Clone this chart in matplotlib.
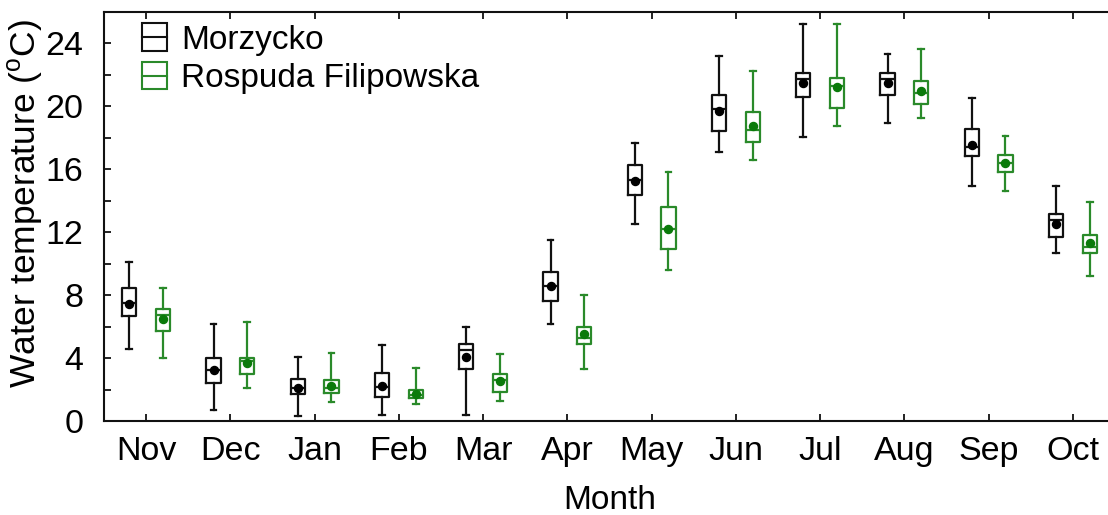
import matplotlib
matplotlib.use("Agg")
import matplotlib.pyplot as plt
from matplotlib.patches import Rectangle
from matplotlib.lines import Line2D
from matplotlib.legend_handler import HandlerBase
from matplotlib.ticker import MultipleLocator

plt.rcParams['font.family'] = ['Liberation Sans', 'DejaVu Sans']
plt.rcParams['mathtext.fontset'] = 'custom'
plt.rcParams['mathtext.rm'] = 'Liberation Sans'

months = ['Nov', 'Dec', 'Jan', 'Feb', 'Mar', 'Apr', 'May', 'Jun', 'Jul', 'Aug', 'Sep', 'Oct']
series = ['Morzycko', 'Rospuda Filipowska']

# Morzycko
m_wlo = [4.6, 0.73, 0.30, 0.41, 0.41, 6.19, 12.53, 17.11, 18.03, 18.94, 14.93, 10.71]
m_q1  = [6.65, 2.43, 1.73, 1.50, 3.32, 7.63, 14.37, 18.41, 20.57, 20.72, 16.82, 11.70]
m_med = [7.50, 3.26, 2.10, 2.15, 4.49, 8.58, 15.31, 19.81, 21.72, 21.72, 17.43, 12.76]
m_q3  = [8.48, 4.02, 2.70, 3.04, 4.91, 9.47, 16.30, 20.74, 22.14, 22.14, 18.55, 13.14]
m_whi = [10.1, 6.14, 4.10, 4.80, 6.00, 11.53, 17.70, 23.22, 25.24, 23.35, 20.55, 14.93]
m_mean = [7.46, 3.26, 2.11, 2.24, 4.10, 8.58, 15.28, 19.72, 21.46, 21.46, 17.56, 12.55]

# Rospuda Filipowska
r_wlo = [4.0, 2.11, 1.20, 1.09, 1.30, 3.28, 9.62, 16.58, 18.77, 19.24, 14.61, 9.20]
r_q1  = [5.70, 2.98, 1.77, 1.48, 1.83, 4.89, 10.92, 17.71, 19.87, 20.13, 15.82, 10.68]
r_med = [6.72, 3.79, 2.10, 1.64, 2.58, 5.30, 12.21, 18.47, 21.29, 20.87, 16.37, 11.06]
r_q3  = [7.14, 4.02, 2.62, 2.00, 2.98, 5.95, 13.61, 19.64, 21.82, 21.63, 16.94, 11.81]
r_whi = [8.48, 6.29, 4.32, 3.40, 4.23, 8.03, 15.82, 22.25, 25.24, 23.65, 18.11, 13.93]
r_mean = [6.46, 3.68, 2.24, 1.71, 2.53, 5.51, 12.20, 18.77, 21.21, 20.95, 16.39, 11.32]

colors = ['#111111', '#2a8a2a']
dot_colors = ['#000000', '#0a7a0a']

fig = plt.figure(figsize=(11.08, 5.15), dpi=100)
ax = fig.add_axes([104/1108, 1 - 421/515, (1115 - 104)/1108, (421 - 12)/515])

def make_stats(wlo, q1, med, q3, whi, mean):
    return [dict(whislo=a, q1=b, med=c, q3=d, whishi=e, mean=f, fliers=[])
            for a, b, c, d, e, f in zip(wlo, q1, med, q3, whi, mean)]

groups = [make_stats(m_wlo, m_q1, m_med, m_q3, m_whi, m_mean),
          make_stats(r_wlo, r_q1, r_med, r_q3, r_whi, r_mean)]
offsets = [-0.2, 0.2]
lw = 1.6
for stats, off, c, dc in zip(groups, offsets, colors, dot_colors):
    pos = [i + off for i in range(len(months))]
    ax.bxp(stats, positions=pos, widths=0.17, capwidths=0.07, showmeans=True,
           showfliers=False, manage_ticks=False,
           boxprops=dict(color=c, linewidth=lw),
           whiskerprops=dict(color=c, linewidth=lw),
           capprops=dict(color=c, linewidth=lw),
           medianprops=dict(color=c, linewidth=lw),
           meanprops=dict(marker='o', markerfacecolor=dc, markeredgecolor=dc, markersize=5.8))

ax.set_xlim(-0.5, 11.5)
ax.set_ylim(0, 26)
ax.set_xticks(range(len(months)))
ax.set_xticklabels(months)
ax.yaxis.set_major_locator(MultipleLocator(4))
ax.yaxis.set_minor_locator(MultipleLocator(2))
ax.tick_params(axis='both', which='both', direction='in', top=True, right=True,
               length=5, width=1.3, labelsize=24.5, color='#111111')
ax.tick_params(axis='x', pad=11)
ax.tick_params(axis='y', pad=15)
for s in ax.spines.values():
    s.set_linewidth(1.5)
    s.set_color('#111111')

ax.set_xlabel('Month', fontsize=24, labelpad=12.5)
ax.set_ylabel(r'Water temperature ($^{\mathrm{o}}$C)', fontsize=25.5)
ax.yaxis.set_label_coords(-0.058, 0.532)


class BoxHandler(HandlerBase):
    def create_artists(self, legend, orig_handle, xdescent, ydescent, width, height, fontsize, trans):
        c = orig_handle.get_edgecolor()
        r = Rectangle((-xdescent, -ydescent), width, height, fc='none', ec=c, lw=1.5, transform=trans)
        l = Line2D([-xdescent, -xdescent + width], [-ydescent + height / 2] * 2, color=c, lw=1.5, transform=trans)
        return [r, l]


handles = [Rectangle((0, 0), 1, 1, fc='none', ec=c) for c in colors]
ax.legend(handles, series, handler_map={Rectangle: BoxHandler()}, loc='upper left',
          bbox_to_anchor=(0.038, 0.972), frameon=False, fontsize=24, borderpad=0,
          borderaxespad=0, handlelength=0.75, handleheight=0.88, handletextpad=0.4,
          labelspacing=0.2)

fig.savefig('out.png', dpi=100)
